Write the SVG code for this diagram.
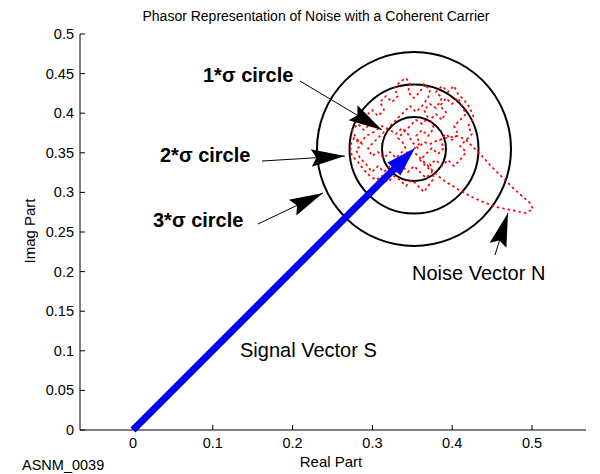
<svg xmlns="http://www.w3.org/2000/svg" width="600" height="474" viewBox="0 0 600 474">
<style>
text{font-family:"Liberation Sans",Arial,sans-serif;fill:#000}
.tk{font-size:14.5px}
.yt{text-anchor:end}
.xt{text-anchor:middle}
.ax{stroke:#000;stroke-width:1;fill:none}
.circ{stroke:#000;stroke-width:2;fill:none}
.lab{font-size:20px;font-weight:bold}
.big{font-size:20px}
.ann{stroke:#000;stroke-width:1;fill:none;marker-end:url(#ah)}
.noise{stroke:#f00;stroke-width:1.7;fill:none;stroke-dasharray:2.5 3;stroke-linejoin:round}
</style>
<defs>
<marker id="ah" markerUnits="userSpaceOnUse" orient="auto" refX="0" refY="0" markerWidth="40" markerHeight="40" viewBox="-30 -10 32 20" overflow="visible">
<path d="M0,0 L-27,-7 L-23,0 L-27,7 Z" fill="#000"/>
</marker>
</defs>
<rect width="600" height="474" fill="#fff"/>
<text x="316" y="21" font-size="14" text-anchor="middle">Phasor Representation of Noise with a Coherent Carrier</text>
<g id="axes">
<path class="ax" d="M80,34 V430 H586"/>
<path class="ax" d="M80,430.0h5M80,390.4h5M80,350.8h5M80,311.2h5M80,271.6h5M80,232.0h5M80,192.4h5M80,152.8h5M80,113.2h5M80,73.6h5M80,34.0h5"/>
<path class="ax" d="M133,430v-5M212.8,430v-5M292.6,430v-5M372.4,430v-5M452.2,430v-5M532,430v-5"/>
<g class="tk yt">
<text x="74" y="435">0</text>
<text x="74" y="395.4">0.05</text>
<text x="74" y="355.8">0.1</text>
<text x="74" y="316.2">0.15</text>
<text x="74" y="276.6">0.2</text>
<text x="74" y="237">0.25</text>
<text x="74" y="197.4">0.3</text>
<text x="74" y="157.8">0.35</text>
<text x="74" y="118.2">0.4</text>
<text x="74" y="78.6">0.45</text>
<text x="74" y="39">0.5</text>
</g>
<g class="tk xt">
<text x="133" y="448">0</text>
<text x="212.8" y="448">0.1</text>
<text x="292.6" y="448">0.2</text>
<text x="372.4" y="448">0.3</text>
<text x="452.2" y="448">0.4</text>
<text x="532" y="448">0.5</text>
</g>
<text x="331" y="467" font-size="15" text-anchor="middle">Real Part</text>
<text transform="translate(35,231) rotate(-90)" font-size="15" text-anchor="middle">Imag Part</text>
</g>
<text x="22" y="470" font-size="14.5">ASNM_0039</text>
<g id="circles">
<circle class="circ" cx="414" cy="149" r="32"/>
<circle class="circ" cx="414" cy="149" r="64.5"/>
<circle class="circ" cx="414" cy="149" r="97"/>
</g>
<g id="noise">
<path class="noise" d="M414,149 L420,143 L416,136 L422,130 L428,136 L434,128 L430,120 L436,114 L442,120 L446,112 L440,106 L446,98 L452,104 L458,98 L462,106 L466,114 L460,120 L454,126 L458,134 L452,140 L446,134 L440,140 L444,148 L438,154 L432,148 L426,154 L420,160 L426,166 L432,172 L426,178 L420,172 L414,166 L408,172 L402,166 L396,172 L390,166 L384,172 L378,166 L372,172 L366,164 L360,158 L356,150 L362,144 L356,138 L352,130 L358,124 L364,130 L370,124 L366,116 L372,110 L378,116 L384,110 L380,102 L386,96 L392,102 L398,96 L394,88 L400,82 L406,78 L410,84 L408,92 L414,98 L420,92 L424,84 L430,90 L428,98 L422,106 L416,112 L410,106 L404,112 L398,118 L392,124 L386,130 L380,136 L374,142 L368,148 L372,156 L378,152 L384,158 L390,152 L396,158 L402,152 L408,156 L404,144 L398,138 L404,132 L410,126 L416,120 L422,124 L428,118 L424,110 L430,104 L436,108 L442,98 L436,92 L442,86 L448,92 L454,86 L458,94 L464,100 L470,108 L474,118 L468,126 L472,134 L466,140 L460,146 L466,152 L460,160 L454,166 L448,160 L442,166 L436,160 L430,164 L434,178 L428,186 L424,192 L418,186 L412,180 L406,186 L400,180 L394,176 L388,182 L382,176 L376,180 L370,176 L364,170 L358,162 L352,156 L350,146 L354,138 L360,144 L366,136 L374,132 L382,126 L390,130 L396,134 L402,128 L408,134 L412,142 L418,148 L424,142 L430,144 L438,140 L446,138 L458,136 L466,140 L474,148 L482,156 L490,165 L498,173 L506,181 L514,189 L522,196 L530,203 L533,209 L526,213 L516,211 L506,209 L496,207 L486,203 L476,199 L466,194 L456,188 L446,182 L438,176 L430,168 L422,160 L414,152"/>
</g>
<g id="signal-vector">
<line x1="133" y1="430" x2="395" y2="168" stroke="#0000ff" stroke-width="7"/>
<polygon points="415,148 387.6,162.6 400.4,175.4" fill="#0000ff"/>
</g>
<g id="connectors">
<line class="ann" x1="300" y1="81" x2="382" y2="130"/>
<line class="ann" x1="262" y1="161" x2="345" y2="156"/>
<line class="ann" x1="258" y1="224" x2="323" y2="193"/>
<line class="ann" x1="495" y1="255" x2="508" y2="213"/>
</g>
<g id="label-1sigma"><text class="lab" x="203" y="82">1*σ circle</text></g>
<g id="label-2sigma"><text class="lab" x="160" y="162">2*σ circle</text></g>
<g id="label-3sigma"><text class="lab" x="153" y="227">3*σ circle</text></g>
<g id="label-noise"><text class="big" x="412" y="280">Noise Vector N</text></g>
<g id="label-signal"><text class="big" x="240" y="357">Signal Vector S</text></g>
</svg>
